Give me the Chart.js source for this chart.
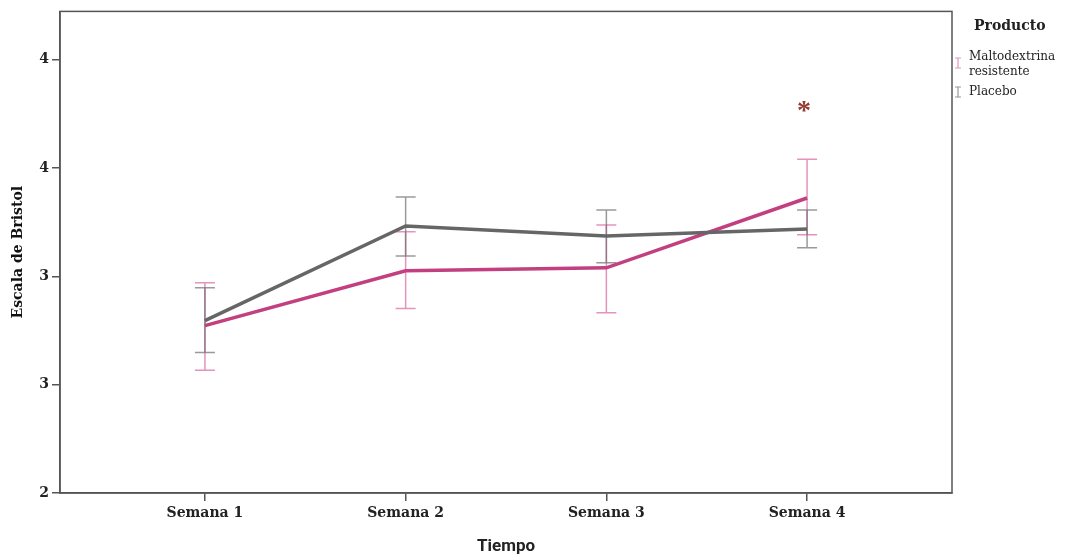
<!DOCTYPE html>
<html>
<head>
<meta charset="utf-8">
<script src="https://cdn.jsdelivr.net/npm/chart.js@4"></script>
<style>
  html, body { margin: 0; padding: 0; background: #fff; }
  #wrap { width: 1070px; height: 558px; }
</style>
</head>
<body>
<div id="wrap"><canvas id="bristolChart" width="1070" height="558"></canvas></div>
<script>
// data
var semanas = ['Semana 1', 'Semana 2', 'Semana 3', 'Semana 4'];
var yTicks = [2, 2.5, 3, 3.5, 4];

var maltoMedia = [2.772, 3.025, 3.039, 3.361];
var maltoLow   = [2.566, 2.851, 2.832, 3.191];
var maltoHigh  = [2.970, 3.205, 3.237, 3.540];

var placeboMedia = [2.795, 3.232, 3.186, 3.218];
var placeboLow   = [2.648, 3.094, 3.062, 3.131];
var placeboHigh  = [2.947, 3.366, 3.306, 3.306];

var seriesNames = [['Maltodextrina', 'resistente'], ['Placebo']];
var asteriskAt = { x: 4, y: 3.775 };

var pink = '#c2407f';
var pinkBar = 'rgba(220, 110, 170, 0.75)';
var gray = '#666666';
var grayBar = 'rgba(110, 110, 110, 0.7)';
var serif = '"DejaVu Serif", "Liberation Serif", serif';

function pts(vals) {
    return vals.map(function(v, i) { return { x: i + 1, y: v }; });
}

// error bars under the lines
var errorBars = {
    id: 'errorBars',
    beforeDatasetsDraw: function(chart) {
        var ctx = chart.ctx;
        var xs = chart.scales.x, ys = chart.scales.y;
        var sets = [[maltoLow, maltoHigh, pinkBar], [placeboLow, placeboHigh, grayBar]];
        ctx.save();
        ctx.lineWidth = 1.5;
        sets.forEach(function(s) {
            ctx.strokeStyle = s[2];
            for (var i = 0; i < semanas.length; i++) {
                var x = xs.getPixelForValue(i + 1);
                var y1 = ys.getPixelForValue(s[0][i]);
                var y2 = ys.getPixelForValue(s[1][i]);
                ctx.beginPath();
                ctx.moveTo(x, y1); ctx.lineTo(x, y2);
                ctx.moveTo(x - 10, y1); ctx.lineTo(x + 10, y1);
                ctx.moveTo(x - 10, y2); ctx.lineTo(x + 10, y2);
                ctx.stroke();
            }
        });
        ctx.restore();
    }
};

// frame, asterisk and legend
var extras = {
    id: 'extras',
    afterDraw: function(chart) {
        var ctx = chart.ctx;
        var a = chart.chartArea;
        ctx.save();
        ctx.strokeStyle = '#555';
        ctx.lineWidth = 1.5;
        ctx.strokeRect(a.left, a.top, a.right - a.left, a.bottom - a.top);

        ctx.fillStyle = '#933a30';
        ctx.font = 'bold 28px "Liberation Serif", serif';
        ctx.textAlign = 'center';
        ctx.textBaseline = 'middle';
        ctx.fillText('*', chart.scales.x.getPixelForValue(asteriskAt.x) - 3,
            chart.scales.y.getPixelForValue(asteriskAt.y) + 3);

        ctx.fillStyle = '#222';
        ctx.textAlign = 'left';
        ctx.textBaseline = 'middle';
        ctx.font = 'bold 14px ' + serif;
        ctx.fillText('Producto', 974, 26);

        ctx.font = '12px ' + serif;
        var colors = [pinkBar, grayBar];
        var rowY = [57, 92];
        seriesNames.forEach(function(lines, k) {
            var y = rowY[k];
            var gy = y + (lines.length > 1 ? 6 : 0);
            ctx.strokeStyle = colors[k];
            ctx.lineWidth = 1.2;
            ctx.beginPath();
            ctx.moveTo(958, gy - 5); ctx.lineTo(958, gy + 5);
            ctx.moveTo(955, gy - 5); ctx.lineTo(961, gy - 5);
            ctx.moveTo(955, gy + 5); ctx.lineTo(961, gy + 5);
            ctx.stroke();
            ctx.fillStyle = '#222';
            lines.forEach(function(t, j) { ctx.fillText(t, 969, y + j * 15); });
        });
        ctx.restore();
    }
};

var ctx = document.getElementById('bristolChart').getContext('2d');
var myChart = new Chart(ctx, {
    type: 'line',
    data: {
        datasets: [{
            label: 'Placebo',
            data: pts(placeboMedia),
            borderColor: gray,
            borderWidth: 3.5,
            pointRadius: 0,
            tension: 0
        }, {
            label: 'Maltodextrina resistente',
            data: pts(maltoMedia),
            borderColor: pink,
            borderWidth: 3.5,
            pointRadius: 0,
            tension: 0
        }]
    },
    options: {
        responsive: false,
        animation: false,
        layout: { padding: { top: 10, right: 118, left: 0, bottom: 0 } },
        plugins: { legend: { display: false }, tooltip: { enabled: false } },
        scales: {
            x: {
                type: 'linear',
                min: 0.278,
                max: 4.722,
                afterBuildTicks: function(s) {
                    s.ticks = semanas.map(function(c, i) { return { value: i + 1 }; });
                },
                afterFit: function(s) { s.height = 65; },
                ticks: {
                    color: '#222',
                    font: { family: serif, size: 14, weight: 'bold' },
                    padding: 4,
                    callback: function(v) { return semanas[v - 1]; }
                },
                grid: { drawOnChartArea: false, tickLength: 8, color: '#555', lineWidth: 1.5 },
                border: { color: '#555', width: 1.5 },
                title: {
                    display: true,
                    text: 'Tiempo',
                    color: '#222',
                    font: { family: 'Roboto, "Liberation Sans", sans-serif', size: 17, weight: 'bold' },
                    padding: { top: 0, bottom: 1 }
                }
            },
            y: {
                min: 2,
                max: 4.222,
                afterBuildTicks: function(s) {
                    s.ticks = yTicks.map(function(v) { return { value: v }; });
                },
                afterFit: function(s) { s.width = 60; },
                ticks: {
                    color: '#222',
                    font: { family: serif, size: 14, weight: 'bold' },
                    padding: 3,
                    callback: function(v) { return Math.round(v).toString(); }
                },
                grid: { drawOnChartArea: false, tickLength: 8, color: '#555', lineWidth: 1.5 },
                border: { color: '#555', width: 1.5 },
                title: {
                    display: true,
                    text: 'Escala de Bristol',
                    color: '#111',
                    font: { family: serif, size: 14, weight: 'bold' },
                    padding: { top: 10, bottom: 0 }
                }
            }
        }
    },
    plugins: [errorBars, extras]
});
</script>
</body>
</html>
